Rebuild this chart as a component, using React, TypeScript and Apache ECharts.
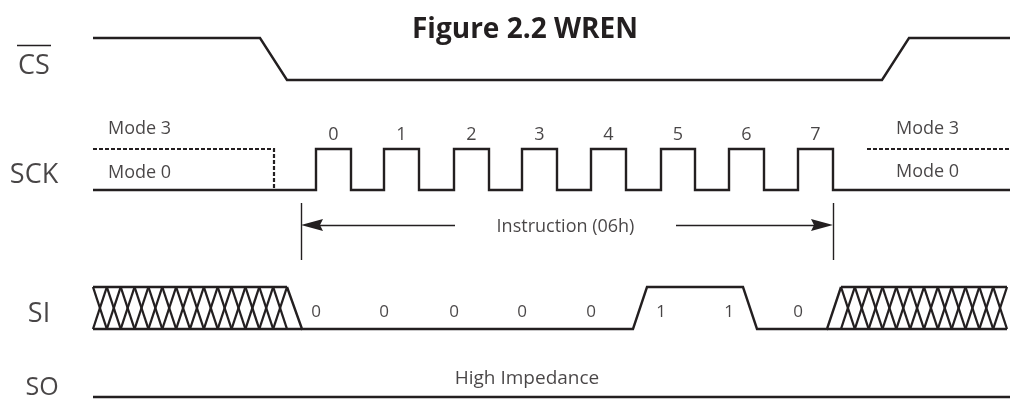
import React, { useEffect, useRef } from "react";
import * as echarts from "echarts";

// ---- timing data (time axis units) ----
const csWave: [number, number][] = [[93, 1], [260, 1], [287, 0], [882, 0], [909, 1], [1010, 1]];
const sckStart = 93;
const sckEnd = 1010;
const sckRise = [316, 384, 454, 522, 591, 661, 729, 798];
const sckFall = [351, 419, 489, 557, 626, 695, 764, 833];
const sckMode3Left: [number, number][] = [[93, 1], [274, 1], [274, 0.05]];
const sckMode3Right: [number, number][] = [[867, 1], [1010, 1]];
const clockLabels = ["0", "1", "2", "3", "4", "5", "6", "7"];
const siBits = ["0", "0", "0", "0", "0", "1", "1", "0"];
const siWave: [number, number][] = [[287, 1], [302, 0], [633, 0], [647, 1], [743, 1], [757, 0], [827, 0], [841, 1]];
// [topStart, topEnd, bottomStart, bottomEnd]
const siDontCare: number[][] = [[93, 287, 93, 302], [841, 1007, 827, 1007]];
const soWave: [number, number][] = [[93, 0], [1010, 0]];
const instructionSpan = [301, 833];
const instructionArrowTails = [455, 676];
const signalNames = ["CS", "SCK", "SI", "SO"];
const modeLabels = ["Mode 3", "Mode 0"];
const instructionText = "Instruction (06h)";
const soText = "High Impedance";
const titleText = "Figure 2.2 WREN";

// ---- layout (vertical lanes: [highY, lowY]) ----
const LANE: Record<string, [number, number]> = {
  CS: [38, 80],
  SCK: [149, 190],
  SI: [287, 329],
  SO: [397, 397],
};
const ARROW_Y = 225;
const INK = "#231f20";
const FONT = "Open Sans";
const LW = 2.4;

const lvl = (lane: [number, number], v: number) => lane[1] + (lane[0] - lane[1]) * v;
const toXY = (lane: [number, number], w: [number, number][]) => w.map(([t, v]) => [t, lvl(lane, v)]);

function sckWave(): [number, number][] {
  const pts: [number, number][] = [[sckStart, 0]];
  sckRise.forEach((r, i) => {
    pts.push([r, 0], [r, 1], [sckFall[i], 1], [sckFall[i], 0]);
  });
  pts.push([sckEnd, 0]);
  return pts;
}

export default function App() {
  const ref = useRef<HTMLDivElement>(null);
  useEffect(() => {
    if (!ref.current) return;
    const chart = echarts.init(ref.current, null, { renderer: "svg" });
    const lineSeries = (data: number[][], dashed = false) => ({
      type: "line",
      data,
      symbol: "none",
      silent: true,
      color: INK,
      lineStyle: { color: INK, width: dashed ? 2.2 : LW, type: dashed ? [4, 2] : "solid", join: "miter" },
    });

    const pitch = 13.9;
    const hatch = {
      type: "custom",
      silent: true,
      data: siDontCare,
      renderItem: (params: any, api: any) => {
        const ts = api.value(0), te = api.value(1), bs = api.value(2), be = api.value(3);
        const [yh, yl] = LANE.SI;
        const c = (x: number, y: number) => api.coord([x, y]);
        const children: any[] = [];
        const seg = (a: number[], b: number[], w: number) =>
          children.push({
            type: "line",
            shape: { x1: a[0], y1: a[1], x2: b[0], y2: b[1] },
            style: { stroke: INK, lineWidth: w },
          });
        seg(c(ts, yh), c(te, yh), LW);
        seg(c(bs, yl), c(be, yl), LW);
        const n = Math.round((te - ts) / pitch);
        const p = (te - ts) / n;
        for (let i = 0; i < n; i++) {
          const x0 = ts + i * p, x1 = ts + (i + 1) * p;
          seg(c(x0, yh), c(x1, yl), 2.3);
          seg(c(x1, yh), c(x0, yl), 2.3);
        }
        return { type: "group", children };
      },
    };

    // arrowheads: [tipX, direction(+1 points right, -1 points left)]
    const arrowHeads = {
      type: "custom",
      silent: true,
      data: [
        [instructionSpan[0], -1],
        [instructionSpan[1], 1],
      ],
      renderItem: (params: any, api: any) => {
        const tip = api.coord([api.value(0), ARROW_Y]);
        const d = api.value(1);
        const L = 22, H = 6, N = 3;
        return {
          type: "polygon",
          shape: {
            points: [
              [tip[0], tip[1]],
              [tip[0] - d * L, tip[1] - H],
              [tip[0] - d * (L - N), tip[1]],
              [tip[0] - d * L, tip[1] + H],
            ],
          },
          style: { fill: INK },
        };
      },
    };

    const labelItem = (x: number, y: number, text: string, size: number, align = "center") => ({
      value: [x, y],
      label: {
        show: true,
        position: "inside",
        formatter: text,
        align,
        verticalAlign: "middle",
        color: "#1a1718",
        fontFamily: FONT,
        fontSize: size,
      },
    });

    const texts: any[] = [];
    const nameX = [34, 34, 39, 42];
    const nameY = [63, 172, 311, 385];
    const nameSize = [27, 27, 27, 25];
    signalNames.forEach((n, i) => texts.push(labelItem(nameX[i], nameY[i], n, nameSize[i])));
    texts.push(labelItem(108, 127, modeLabels[0], 18, "left"));
    texts.push(labelItem(108, 171, modeLabels[1], 18, "left"));
    texts.push(labelItem(896, 127, modeLabels[0], 18, "left"));
    texts.push(labelItem(896, 170, modeLabels[1], 18, "left"));
    clockLabels.forEach((l, i) => texts.push(labelItem((sckRise[i] + sckFall[i]) / 2, 133, l, 18)));
    siBits.forEach((b, i) => texts.push(labelItem(sckRise[i], 310, b, 17)));
    texts.push(labelItem((instructionArrowTails[0] + instructionArrowTails[1]) / 2, ARROW_Y, instructionText, 18));
    texts.push(labelItem(527, 377, soText, 19));

    const option: any = {
      animation: false,
      title: {
        text: titleText,
        left: 412,
        top: 13,
        padding: 0,
        textStyle: { fontFamily: FONT, fontWeight: "bold", fontSize: 28, color: INK },
      },
      grid: { left: 0, right: 0, top: 0, bottom: 0 },
      xAxis: { type: "value", min: 0, max: 1010, show: false },
      yAxis: { type: "value", min: 0, max: 404, inverse: true, show: false },
      series: [
        lineSeries(toXY(LANE.CS, csWave)),
        lineSeries(toXY(LANE.SCK, sckWave())),
        lineSeries(toXY(LANE.SCK, sckMode3Left), true),
        lineSeries(toXY(LANE.SCK, sckMode3Right), true),
        lineSeries(toXY(LANE.SI, siWave)),
        lineSeries(toXY(LANE.SO, soWave)),
        hatch,
        {
          type: "lines",
          coordinateSystem: "cartesian2d",
          silent: true,
          symbol: "none",
          lineStyle: { color: INK, width: 1.3, opacity: 1 },
          data: [
            { coords: [[instructionArrowTails[0], ARROW_Y], [instructionSpan[0] + 10, ARROW_Y]] },
            { coords: [[instructionArrowTails[1], ARROW_Y], [instructionSpan[1] - 10, ARROW_Y]] },
          ],
        },
        arrowHeads,
        {
          type: "lines",
          coordinateSystem: "cartesian2d",
          silent: true,
          symbol: "none",
          lineStyle: { color: INK, width: 1.4, opacity: 1 },
          data: [
            { coords: [[instructionSpan[0], 203], [instructionSpan[0], 260]] },
            { coords: [[instructionSpan[1], 203], [instructionSpan[1], 260]] },
            { coords: [[17, 45], [51, 45]] },
          ],
        },
        {
          type: "scatter",
          silent: true,
          symbolSize: 0,
          data: texts,
        },
      ],
    };
    chart.setOption(option);
    return () => chart.dispose();
  }, []);
  return <div ref={ref} style={{ position: "fixed", left: 0, top: 0, width: 1010, height: 404 }} />;
}
